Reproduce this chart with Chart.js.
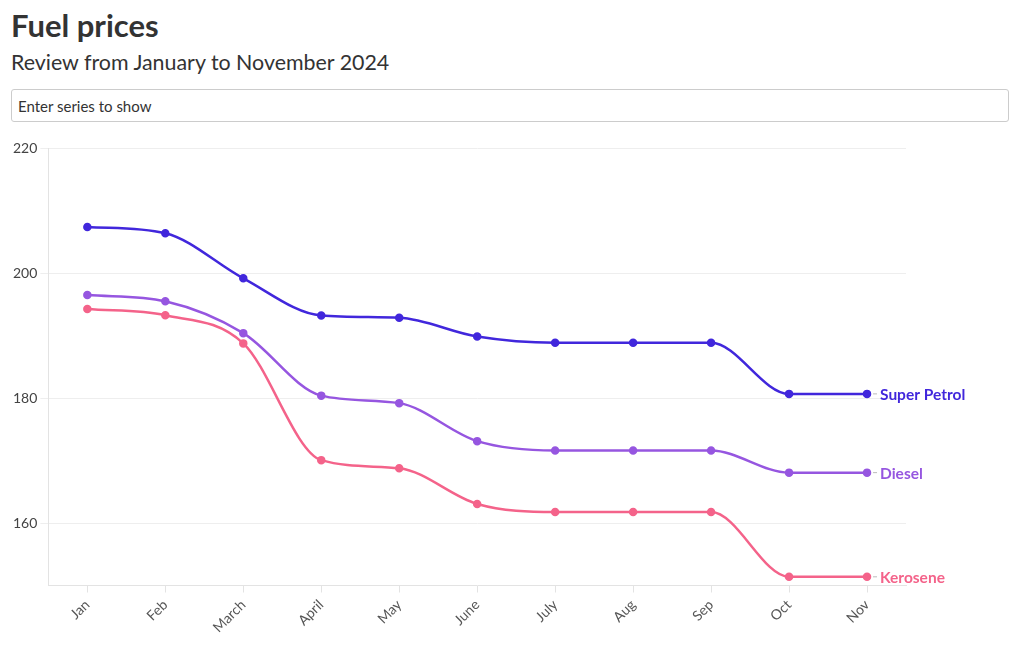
<!DOCTYPE html>
<html>
<head>
<meta charset="utf-8">
<script src="https://cdn.jsdelivr.net/npm/chart.js@4"></script>
<style>
  body { margin: 0; background: #fff; font-family: Lato, "Noto Sans", sans-serif; color: #333; width: 1020px; height: 650px; overflow: hidden; position: relative; }
  h1 { position: absolute; left: 11px; top: 6px; margin: 0; font-size: 31px; font-weight: 700; color: #333; }
  h2 { position: absolute; left: 11px; top: 49px; margin: 0; font-size: 21.4px; font-weight: 400; color: #333; }
  input { position: absolute; left: 11px; top: 89px; width: 998px; height: 33px; box-sizing: border-box; border: 1px solid #ccc; border-radius: 3px; padding: 0 6px; font-family: Lato, sans-serif; font-size: 15px; color: #333; }
  input::placeholder { color: #333; }
  #wrap { position: absolute; left: 0; top: 130px; width: 1020px; height: 520px; }
</style>
</head>
<body>
<h1>Fuel prices</h1>
<h2>Review from January to November 2024</h2>
<input type="text" placeholder="Enter series to show">
<div id="wrap"><canvas id="grafico"></canvas></div>
<script>
// Dados
const meses = ["Jan", "Feb", "March", "April", "May", "June", "July", "Aug", "Sep", "Oct", "Nov"];
const superPetrol = [207.36, 206.36, 199.15, 193.2, 192.84, 189.84, 188.84, 188.84, 188.84, 180.66, 180.66];
const diesel = [196.47, 195.47, 190.38, 180.38, 179.18, 173.1, 171.6, 171.6, 171.6, 168.06, 168.06];
const kerosene = [194.23, 193.23, 188.74, 170.06, 168.76, 163.05, 161.75, 161.75, 161.75, 151.39, 151.39];
const yTicks = [160, 180, 200, 220];

const cores = { super: '#4127dc', diesel: '#9656e0', kerosene: '#f4638a' };

function serie(nome, dados, cor) {
  return {
    label: nome,
    data: dados,
    borderColor: cor,
    backgroundColor: cor,
    borderWidth: 2.5,
    pointRadius: 3,
    pointHoverRadius: 4,
    cubicInterpolationMode: 'monotone',
    fill: false
  };
}

// Rótulos no fim de cada linha
const rotulosFinais = {
  id: 'rotulosFinais',
  afterDatasetsDraw(chart) {
    const ctx = chart.ctx;
    chart.data.datasets.forEach((ds, i) => {
      const meta = chart.getDatasetMeta(i);
      const p = meta.data[meta.data.length - 1];
      ctx.save();
      ctx.strokeStyle = '#bbb';
      ctx.lineWidth = 1;
      ctx.beginPath();
      ctx.moveTo(p.x + 6, p.y);
      ctx.lineTo(p.x + 10, p.y);
      ctx.stroke();
      ctx.fillStyle = ds.borderColor;
      ctx.font = 'bold 15.5px Lato, sans-serif';
      ctx.textBaseline = 'middle';
      ctx.fillText(ds.label, p.x + 13, p.y + 1);
      ctx.restore();
    });
  }
};

new Chart(document.getElementById('grafico'), {
  type: 'line',
  data: {
    labels: meses,
    datasets: [
      serie('Super Petrol', superPetrol, cores.super),
      serie('Diesel', diesel, cores.diesel),
      serie('Kerosene', kerosene, cores.kerosene)
    ]
  },
  options: {
    responsive: true,
    maintainAspectRatio: false,
    animation: false,
    layout: { padding: { top: 18, left: 10, right: 114, bottom: 10 } },
    plugins: { legend: { display: false }, tooltip: { enabled: false } },
    scales: {
      x: {
        offset: true,
        grid: { drawOnChartArea: false, offset: false, tickLength: 7, color: '#e3e3e3' },
        border: { color: '#e3e3e3' },
        ticks: { color: '#555', font: { family: 'Lato, sans-serif', size: 14 }, minRotation: 45, maxRotation: 45, padding: 4 }
      },
      y: {
        min: 150,
        max: 220,
        afterBuildTicks: axis => { axis.ticks = yTicks.map(v => ({ value: v })); },
        grid: { color: '#eeeeee', tickLength: 8 },
        border: { color: '#e3e3e3' },
        ticks: { color: '#444', font: { family: 'Lato, sans-serif', size: 14 }, padding: 3 }
      }
    }
  },
  plugins: [rotulosFinais]
});
</script>
</body>
</html>
